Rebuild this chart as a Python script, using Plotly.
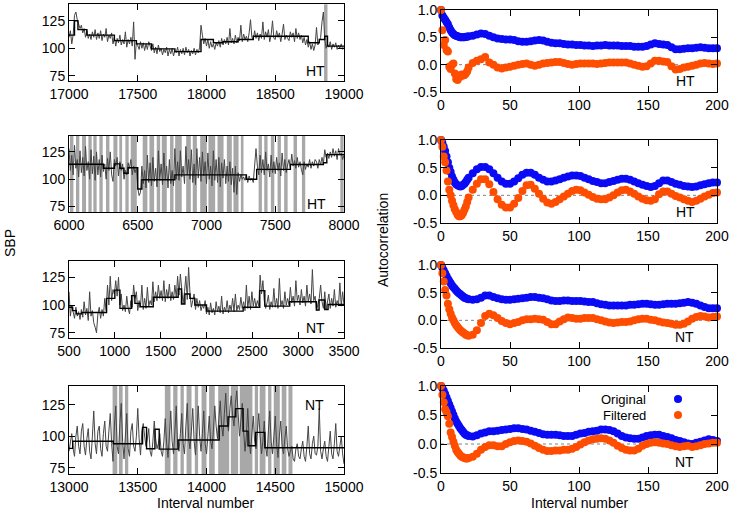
import plotly.graph_objects as go

OX, OY = 0, 0
W, H = 735, 520
FONT = "Liberation Sans, Arial, Helvetica, sans-serif"

# ---------------- Left column: SBP time series ----------------
p1_start, p1_step = 17000, 10
p1_sbp = [110,116,104,112,130,133,126,122,118,121,
          114,118,110,116,109,113,108,115,110,117,
          108,114,109,116,107,113,110,118,106,112,
          109,114,104,110,102,109,105,112,103,108,
          104,115,101,108,104,110,102,124,90,106,
          103,99,106,100,105,98,104,99,106,101,
          98,104,96,101,95,103,97,100,94,99,
          96,101,93,99,95,100,93,98,96,101,
          93,99,95,100,94,101,96,99,93,98,
          95,100,94,99,96,101,121,112,104,109,
          102,108,100,106,101,104,99,105,102,107,
          101,109,103,108,104,110,103,118,105,109,
          104,112,105,110,107,121,106,113,108,111,
          106,114,126,110,108,116,109,114,107,113,
          109,124,108,115,110,117,106,112,125,109,
          108,116,110,114,106,113,122,108,112,109,
          107,115,110,114,106,118,109,114,108,112,
          105,110,103,108,101,106,99,104,98,103,
          119,103,106,110,124,133,108,100,104,101,
          106,99,104,101,105,99,103,100,104,99,
          101]
p1_step_x = [17000,17040,17065,17130,17330,17490,17600,17770,17960,18050,18120,18230,18340,18740,18820,18860,18880,19000]
p1_step_y = [112,125,117,112,107,104,99.5,97,108,105,106,108,111,105,108,111,102,102]
p1_bands = [[18855,18880]]

p2_start, p2_step = 6000, 10
p2_sbp = [128,108,122,104,131,110,118,102,126,106,
          120,103,130,108,116,100,127,105,121,99,
          125,104,118,102,122,107,114,100,119,108,
          125,104,98,118,112,120,103,116,108,114,
          100,108,104,115,110,118,104,112,106,110,
          92,85,88,112,96,108,92,122,97,115,
          94,120,98,110,93,126,99,114,95,124,
          100,112,92,118,96,108,94,128,100,116,
          99,126,102,112,96,130,104,118,100,127,
          97,114,95,128,101,120,98,125,103,116,
          96,124,100,112,94,126,99,118,97,120,
          93,115,101,118,96,112,98,116,95,110,
          88,112,86,106,98,104,100,102,99,104,
          97,103,99,101,97,110,128,112,104,122,
          106,118,104,125,108,114,102,122,106,116,
          105,120,108,115,103,124,108,118,106,113,
          118,110,123,112,117,110,120,111,116,109,
          104,116,109,114,111,118,110,116,112,118,
          116,110,118,113,120,114,127,120,124,119,
          125,120,128,121,126,118,128,122,124,118,
          122]
p2_step_x = [6000,6250,6330,6370,6400,6430,6500,6530,6770,7290,7365,7610,7850,7875,8000]
p2_step_y = [113.7,110,114,110,105.5,110.5,91,99.5,104,100,109,113.5,115,122.5,122.5]
p2_bands = [[6007,6032],[6051,6075],[6095,6124],[6141,6165],[6177,6201],[6221,6245],
            [6269,6294],[6323,6352],[6366,6386],[6410,6434],[6449,6493],[6536,6570],
            [6585,6619],[6638,6663],[6675,6711],[6735,6760],[6772,6820],[6852,6886],
            [6900,6930],[6954,7002],[7014,7063],[7080,7124],[7148,7184],[7196,7233],
            [7250,7269],[7379,7403],[7420,7444],[7468,7493],[7517,7541],[7565,7590],
            [7633,7658],[7694,7718],[7973,7997]]

p3_start, p3_step = 500, 15
p3_sbp = [112,90,100,95,88,98,90,94,87,96,
          89,103,91,97,86,112,90,95,84,80,
          75,92,98,88,96,90,106,95,118,100,
          126,104,114,110,122,108,125,100,110,95,
          100,94,108,97,92,104,98,118,106,112,
          95,104,99,118,96,106,97,116,99,104,
          100,121,103,112,104,118,106,113,104,122,
          103,114,106,119,104,112,105,118,107,126,
          109,128,115,101,112,126,105,134,110,98,
          104,110,96,106,98,104,95,100,97,104,
          92,98,91,102,93,97,91,103,94,99,
          93,108,92,98,94,104,93,100,95,106,
          94,110,95,100,96,107,97,103,95,118,
          97,108,96,112,99,106,98,104,99,127,
          110,122,104,97,102,109,96,103,98,115,
          98,106,97,124,99,104,97,112,100,106,
          100,116,102,108,99,122,104,109,100,114,
          102,108,99,118,103,110,101,132,104,108,
          95,100,106,118,103,97,112,96,102,110,
          97,106,99,114,98,104,100,120,99,112,
          100]
p3_step_x = [500,540,580,640,910,1000,1056,1183,1219,1274,1419,1691,1727,1764,1819,1873,2000,2400,2581,2636,2908,3199,3228,3290,3326,3500]
p3_step_y = [98,95,92,93.3,106,113.5,97,108.5,101.5,98.5,107,114.5,101,110,106,100,94.5,98,113,99,103,95.5,104.5,96,100.5,100.5]
p3_bands = []

p4_start, p4_step = 13000, 10
p4_sbp = [88,96,102,90,84,100,108,92,86,104,
          110,92,85,98,106,88,82,100,120,94,
          86,104,108,90,84,102,112,92,88,104,
          118,94,80,108,124,92,86,110,126,96,
          82,100,118,90,84,104,110,92,88,100,
          122,98,85,104,110,100,92,98,106,88,
          84,96,112,98,90,94,102,88,84,96,
          114,94,83,100,120,96,86,104,124,92,
          88,102,118,94,86,108,126,98,90,104,
          122,96,85,104,124,100,88,102,120,94,
          86,100,116,96,90,104,124,108,98,114,
          128,108,100,118,134,112,104,122,132,116,
          108,126,136,118,100,112,126,104,88,100,
          122,98,86,102,116,96,90,104,118,100,
          86,96,112,92,84,104,120,96,86,100,
          116,94,83,100,112,92,86,98,108,90,
          84,88,92,82,80,90,94,84,82,90,
          96,84,80,92,108,86,82,94,100,86,
          85,92,122,88,82,90,96,84,80,92,
          104,86,82,94,110,88,84,92,100,86,
          78]
p4_step_x = [13000,13027,13322,13535,13564,13625,13656,13794,14092,14157,14213,14266,14302,14358,14424,15000]
p4_step_y = [90.3,96,94,107,90,105.5,89.7,97,108,115.3,121.8,104,92.4,103,90.8,90.8]
p4_bands = [[13317,13351],[13363,13390],[13407,13431],[13697,13738],[13758,13789],
            [13811,13835],[13855,13891],[13915,13939],[13964,14000],[14019,14060],
            [14085,14165],[14177,14230],[14242,14334],[14351,14375],[14387,14429],
            [14448,14472],[14489,14533],[14547,14581],[14596,14625]]

left_ranges = [[17000,19000],[6000,8000],[500,3500],[13000,15000]]
left_ticks = [[17000,17500,18000,18500,19000],[6000,6500,7000,7500,8000],
              [500,1000,1500,2000,2500,3000,3500],[13000,13500,14000,14500,15000]]
left_labels = ["HT","HT","NT","NT"]
sbp_ticks = [75,100,125]

# ---------------- Right column: autocorrelation ----------------
lags = list(range(0, 21)) + list(range(23, 201, 3))

r1_orig = [1.0,0.9,0.86,0.82,0.78,0.74,0.68,0.63,0.59,0.56,0.54,0.53,0.52,0.51,0.5,0.5,0.5,0.5,0.51,0.51,0.52,
           0.53,0.55,0.57,0.56,0.53,0.5,0.48,0.47,0.46,0.46,0.45,0.43,0.42,0.42,0.43,0.44,0.45,0.44,0.42,0.4,
           0.39,0.39,0.38,0.37,0.37,0.36,0.36,0.35,0.35,0.34,0.35,0.35,0.36,0.35,0.35,0.35,0.34,0.34,0.34,0.33,
           0.33,0.33,0.34,0.37,0.39,0.38,0.37,0.36,0.32,0.28,0.28,0.29,0.3,0.3,0.31,0.32,0.31,0.3,0.3,0.3]
r1_filt = [1.0,0.63,0.36,0.45,0.27,0.24,-0.04,-0.08,0.0,0.02,-0.16,-0.26,-0.28,-0.2,-0.22,-0.18,-0.2,-0.19,-0.16,-0.12,-0.05,
           0.03,0.07,0.1,0.14,0.04,0.0,-0.05,-0.07,-0.05,-0.04,-0.02,0.0,0.01,0.02,0.0,-0.02,0.0,0.02,0.03,0.04,
           0.05,0.05,0.03,0.01,0.0,0.01,0.02,0.02,0.02,0.02,0.01,0.02,0.03,0.04,0.04,0.04,0.04,0.04,0.02,0.0,
           -0.02,-0.04,-0.03,0.02,0.07,0.07,0.06,0.05,-0.03,-0.09,-0.08,-0.05,-0.04,-0.02,0.0,0.02,0.03,0.02,0.01,0.02]

r2_orig = [1.0,0.95,0.88,0.8,0.7,0.6,0.5,0.42,0.34,0.28,0.23,0.2,0.18,0.17,0.16,0.17,0.19,0.21,0.24,0.28,0.32,
           0.4,0.47,0.51,0.51,0.47,0.4,0.32,0.25,0.21,0.21,0.25,0.31,0.37,0.41,0.41,0.37,0.32,0.28,0.25,0.25,
           0.27,0.29,0.32,0.34,0.36,0.36,0.35,0.32,0.29,0.26,0.24,0.22,0.22,0.24,0.26,0.28,0.3,0.3,0.28,0.25,
           0.22,0.19,0.17,0.15,0.17,0.22,0.27,0.27,0.24,0.21,0.19,0.17,0.16,0.15,0.16,0.18,0.2,0.22,0.23,0.23]
r2_filt = [1.0,0.88,0.7,0.6,0.45,0.25,0.1,0.0,-0.1,-0.18,-0.25,-0.3,-0.35,-0.38,-0.38,-0.36,-0.32,-0.26,-0.2,-0.12,-0.04,
           0.1,0.21,0.29,0.29,0.2,0.06,-0.07,-0.17,-0.22,-0.22,-0.15,-0.05,0.08,0.18,0.19,0.12,0.03,-0.06,-0.13,-0.15,
           -0.12,-0.07,-0.02,0.03,0.08,0.1,0.09,0.05,0.01,-0.03,-0.06,-0.07,-0.07,-0.04,0.0,0.05,0.09,0.1,0.07,0.03,
           -0.02,-0.06,-0.09,-0.1,-0.07,0.02,0.07,0.07,0.03,-0.01,-0.04,-0.07,-0.1,-0.12,-0.1,-0.06,-0.02,0.01,0.04,0.05]

r3_orig = [1.0,0.95,0.9,0.85,0.8,0.75,0.71,0.67,0.63,0.6,0.57,0.54,0.51,0.49,0.47,0.45,0.43,0.41,0.4,0.39,0.38,
           0.37,0.38,0.41,0.45,0.45,0.42,0.4,0.38,0.37,0.37,0.38,0.39,0.4,0.41,0.42,0.42,0.41,0.4,0.38,0.36,
           0.35,0.35,0.36,0.36,0.35,0.35,0.35,0.34,0.33,0.33,0.31,0.29,0.28,0.27,0.27,0.27,0.27,0.27,0.28,0.28,
           0.29,0.3,0.3,0.29,0.28,0.28,0.29,0.3,0.3,0.3,0.31,0.32,0.33,0.32,0.3,0.27,0.24,0.22,0.22,0.22]
r3_filt = [1.0,0.85,0.7,0.55,0.45,0.3,0.2,0.12,0.05,0.0,-0.05,-0.09,-0.12,-0.15,-0.18,-0.2,-0.22,-0.24,-0.26,-0.27,-0.28,
           -0.26,-0.18,-0.05,0.08,0.12,0.09,0.04,-0.01,-0.05,-0.07,-0.05,-0.03,0.0,0.02,0.02,0.03,0.02,0.01,-0.03,-0.07,
           -0.07,-0.02,0.02,0.05,0.04,0.03,0.03,0.04,0.04,0.04,0.02,0.0,-0.02,-0.04,-0.05,-0.04,-0.03,-0.03,-0.02,0.0,
           0.02,0.03,0.03,0.01,0.0,-0.02,-0.04,-0.05,-0.06,-0.08,-0.08,-0.06,-0.02,0.03,0.06,0.08,0.07,0.05,0.06,0.07]

r4_orig = [1.0,0.96,0.92,0.86,0.8,0.74,0.68,0.62,0.56,0.5,0.44,0.39,0.35,0.31,0.27,0.24,0.21,0.18,0.16,0.15,0.14,
           0.13,0.15,0.18,0.2,0.22,0.22,0.23,0.24,0.25,0.26,0.27,0.27,0.26,0.25,0.23,0.21,0.19,0.17,0.16,0.16,
           0.16,0.15,0.14,0.14,0.14,0.16,0.18,0.19,0.21,0.22,0.23,0.25,0.25,0.24,0.22,0.18,0.14,0.11,0.1,0.09,
           0.09,0.11,0.14,0.15,0.16,0.16,0.14,0.12,0.1,0.07,0.05,0.03,0.01,0.0,0.02,0.04,0.06,0.08,0.07,0.05]
r4_filt = [1.0,0.85,0.72,0.6,0.55,0.48,0.35,0.2,0.12,0.04,-0.03,-0.1,-0.14,-0.17,-0.2,-0.22,-0.23,-0.24,-0.25,-0.25,-0.24,
           -0.22,-0.17,-0.1,-0.05,-0.02,-0.02,-0.04,-0.04,0.0,0.03,0.05,0.06,0.05,0.04,0.01,-0.03,-0.07,-0.1,-0.12,-0.12,
           -0.11,-0.11,-0.1,-0.1,-0.08,-0.05,-0.01,0.03,0.06,0.08,0.09,0.1,0.09,0.06,0.02,-0.03,-0.07,-0.1,-0.11,-0.11,
           -0.08,-0.03,0.0,0.02,0.03,0.02,0.01,0.0,-0.02,-0.04,-0.05,-0.04,-0.03,-0.05,-0.04,-0.02,0.0,0.01,0.02,0.02]

right_labels = ["HT","HT","NT","NT"]
acf_ticks = [-0.5,0.0,0.5,1.0]
acf_ticktext = ["-0.5","0.0","0.5","1.0"]
lag_ticks = [0,50,100,150,200]
series_names = ["Original","Filtered"]

BLUE = "#0a0af5"
ORANGE = "#ff4d00"
DATA_GRAY = "#454545"
BAND_GRAY = "#a8a8a8"

# ---------------- Layout geometry (target pixels in the screenshot) ----------------
left_x = (69, 344)
right_x = (441, 717)
left_y = [(4.3, 81.3), (135.5, 212), (260.7, 338.3), (385.7, 474)]
right_y = [(10, 92), (140, 223), (265, 348), (386, 473)]

def fx(px):
    return (px - OX) / W

def fy(py):
    return 1 - (py - OY) / H

def xd(a, b):
    return [fx(a), fx(b)]

def yd(top, bottom):
    return [fy(bottom), fy(top)]

fig = go.Figure()
layout = dict(template="none", width=W, height=H, margin=dict(l=0, r=0, t=0, b=0, pad=0),
              paper_bgcolor="white", plot_bgcolor="white", showlegend=False,
              font=dict(family=FONT, size=14, color="black"))
shapes = []
annotations = []

def axis_common():
    return dict(ticks="inside", ticklen=6, tickwidth=1, tickcolor="black",
                showline=True, linecolor="black", linewidth=1, mirror="allticks",
                showgrid=False, zeroline=False, automargin=False,
                tickfont=dict(family=FONT, size=14, color="black"))

def text_ann(text, px, py, size=14, angle=0, xanchor="center"):
    return dict(text=text, x=fx(px), y=fy(py), xref="paper", yref="paper",
                showarrow=False, textangle=angle, xanchor=xanchor, yanchor="middle",
                font=dict(family=FONT, size=size, color="black"))

left_series = [(p1_start, p1_step, p1_sbp, p1_step_x, p1_step_y, p1_bands),
               (p2_start, p2_step, p2_sbp, p2_step_x, p2_step_y, p2_bands),
               (p3_start, p3_step, p3_sbp, p3_step_x, p3_step_y, p3_bands),
               (p4_start, p4_step, p4_sbp, p4_step_x, p4_step_y, p4_bands)]

label_pos_left = [(315, 71), (316, 204), (315, 328), (314, 405)]
for i, (st, sp, vals, sx, sy, bands) in enumerate(left_series):
    n = i + 1
    xa = "x" if n == 1 else f"x{n}"
    ya = "y" if n == 1 else f"y{n}"
    xs = [st + k * sp for k in range(len(vals))]
    ax = axis_common()
    ax.update(domain=xd(*left_x), range=left_ranges[i], tickmode="array",
              tickvals=left_ticks[i], ticktext=[str(v) for v in left_ticks[i]], anchor=ya)
    ay = axis_common()
    ay.update(domain=yd(*left_y[i]), range=[70, 140], tickmode="array",
              tickvals=sbp_ticks, ticktext=[str(v) for v in sbp_ticks], anchor=xa)
    layout["xaxis" if n == 1 else f"xaxis{n}"] = ax
    layout["yaxis" if n == 1 else f"yaxis{n}"] = ay
    for b0, b1 in bands:
        shapes.append(dict(type="rect", xref=xa, yref=f"{ya} domain", x0=b0, x1=b1,
                           y0=0, y1=1, fillcolor=BAND_GRAY, line=dict(width=0), layer="below"))
    fig.add_trace(go.Scatter(x=xs, y=vals, mode="lines", xaxis=xa, yaxis=ya,
                             line=dict(color=DATA_GRAY, width=1)))
    fig.add_trace(go.Scatter(x=sx, y=sy, mode="lines", xaxis=xa, yaxis=ya,
                             line=dict(color="black", width=1.4, shape="hv")))
    lx, ly = label_pos_left[i]
    annotations.append(text_ann(left_labels[i], lx, ly))

right_series = [(r1_orig, r1_filt), (r2_orig, r2_filt), (r3_orig, r3_filt), (r4_orig, r4_filt)]
label_pos_right = [(685, 81), (685, 212), (684, 337), (684, 462)]
for i, (orig, filt) in enumerate(right_series):
    n = i + 5
    xa, ya = f"x{n}", f"y{n}"
    ax = axis_common()
    ax.update(domain=xd(*right_x), range=[0, 200], tickmode="array", tickvals=lag_ticks,
              ticktext=[str(v) for v in lag_ticks], anchor=ya)
    ay = axis_common()
    ay.update(domain=yd(*right_y[i]), range=[-0.5, 1.0], tickmode="array",
              tickvals=acf_ticks, ticktext=acf_ticktext, anchor=xa)
    layout[f"xaxis{n}"] = ax
    layout[f"yaxis{n}"] = ay
    shapes.append(dict(type="line", xref=xa, yref=ya, x0=0, x1=200, y0=0, y1=0,
                       line=dict(color="#808080", width=1, dash="dot"), layer="below"))
    fig.add_trace(go.Scatter(x=lags, y=orig, mode="markers", xaxis=xa, yaxis=ya, name=series_names[0],
                             marker=dict(color=BLUE, size=8, line=dict(width=0)), cliponaxis=False))
    fig.add_trace(go.Scatter(x=lags, y=filt, mode="markers", xaxis=xa, yaxis=ya, name=series_names[1],
                             marker=dict(color=ORANGE, size=8, line=dict(width=0)), cliponaxis=False))
    lx, ly = label_pos_right[i]
    annotations.append(text_ann(right_labels[i], lx, ly))

# legend (gnuplot style: text then symbol)
for name, col, ly in [(series_names[0], BLUE, 399), (series_names[1], ORANGE, 415)]:
    annotations.append(text_ann(name, 648, ly, size=13, xanchor="right"))
    shapes.append(dict(type="circle", xref="paper", yref="paper", xsizemode="pixel", ysizemode="pixel",
                       xanchor=fx(678), yanchor=fy(ly), x0=-4, x1=4, y0=-4, y1=4,
                       fillcolor=col, line=dict(width=0)))

# axis titles
annotations.append(text_ann("SBP", 10, 243, angle=-90))
annotations.append(text_ann("Autocorrelation", 383, 240, angle=-90))
for cx in [206, 580]:
    annotations.append(text_ann("Interval number", cx, 503))

layout["shapes"] = shapes
layout["annotations"] = annotations
fig.update_layout(**layout)
# remove the page's default body margin so the figure sits at the window's corner
fig.write_html("out.html", config={"displayModeBar": False},
               post_script="document.body.style.margin='0px';document.body.style.padding='0px';")
